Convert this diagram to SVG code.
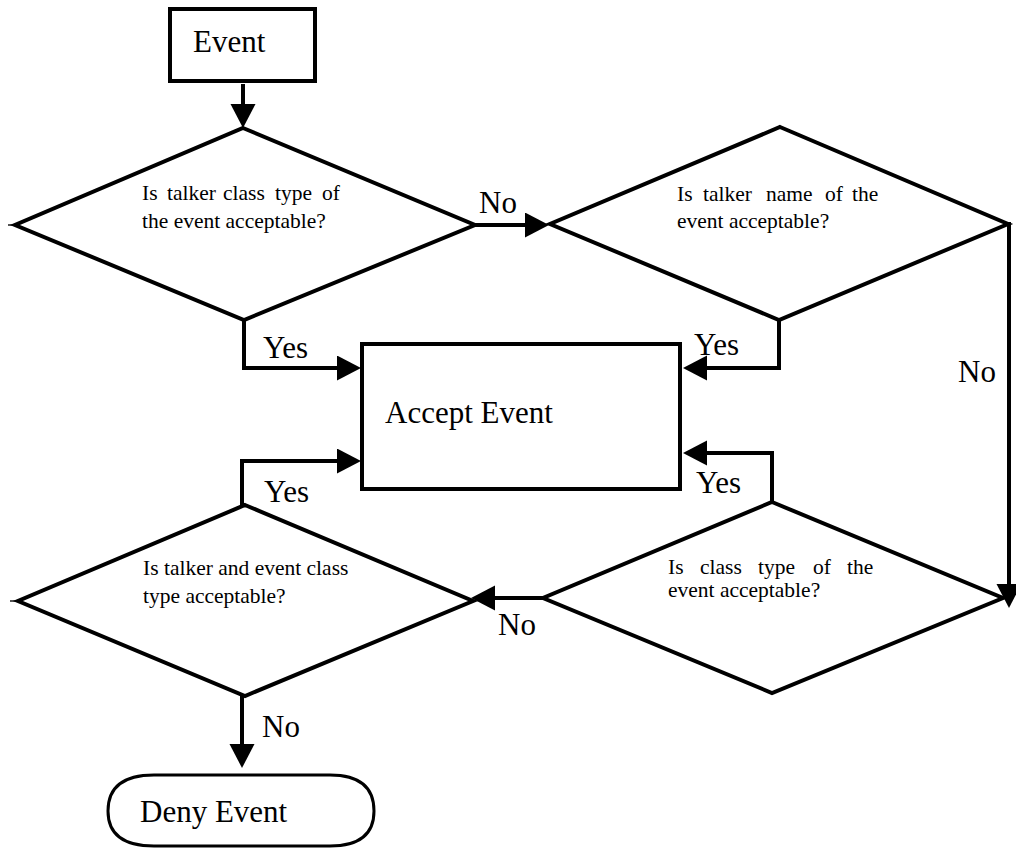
<svg xmlns="http://www.w3.org/2000/svg" width="1016" height="849" viewBox="0 0 1016 849">
<style>
.shape{fill:#fff;stroke:#000;stroke-width:4;stroke-linejoin:miter}
.conn{fill:none;stroke:#000;stroke-width:4;marker-end:url(#ah)}
.tail{stroke:#555;stroke-width:2}
.big{font-family:"Liberation Serif",serif;font-size:31px;fill:#000}
.small{font-family:"Liberation Serif",serif;font-size:21.5px;fill:#000}
</style>
<defs>
<marker id="ah" markerUnits="userSpaceOnUse" markerWidth="26" markerHeight="26" refX="4" refY="12.5" orient="auto" viewBox="0 0 26 26">
<path d="M0,0 L24,12.5 L0,25 Z" fill="#000"/>
</marker>
</defs>
<rect width="1016" height="849" fill="#fff"/>
<g id="connectors">
<path class="conn" d="M243,84 V108"/>
<path class="conn" d="M475,225 H529"/>
<path class="conn" d="M244,320 V368 H341"/>
<path class="conn" d="M779,320 V368 H703"/>
<path class="conn" d="M1009,222 V588"/>
<path class="conn" d="M772,502 V453 H703"/>
<path class="conn" d="M543,598 H491"/>
<path class="conn" d="M242,505 V461 H341"/>
<path class="conn" d="M242,696 V748"/>
</g>
<g id="event">
<rect class="shape" x="170" y="9" width="145" height="72"/>
<text class="big" x="193" y="52">Event</text>
</g>
<g id="d1">
<line class="tail" x1="8" y1="225" x2="16" y2="225"/>
<polygon class="shape" points="243,128 475,225 244,320 15,225"/>
<text class="small" y="200"><tspan x="142">Is</tspan><tspan x="167">talker</tspan><tspan x="223">class</tspan><tspan x="275">type</tspan><tspan x="322">of</tspan></text>
<text class="small" x="142" y="228">the event acceptable?</text>
</g>
<g id="d2">
<polygon class="shape" points="780,127 1008,224 779,320 550,224"/>
<text class="small" y="201"><tspan x="677">Is</tspan><tspan x="703">talker</tspan><tspan x="766">name</tspan><tspan x="825">of</tspan><tspan x="852">the</tspan></text>
<text class="small" x="677" y="228">event acceptable?</text>
</g>
<g id="accept">
<rect class="shape" x="362" y="344" width="318" height="145"/>
<text class="big" x="385" y="423">Accept Event</text>
</g>
<g id="d3">
<line class="tail" x1="10" y1="601" x2="19" y2="601"/>
<polygon class="shape" points="245,505 473,601 245,696 18,601"/>
<text class="small" x="143" y="575">Is talker and event class</text>
<text class="small" x="143" y="603">type acceptable?</text>
</g>
<g id="d4">
<polygon class="shape" points="772,502 1003,598 772,693 543,598"/>
<text class="small" y="574"><tspan x="668">Is</tspan><tspan x="700">class</tspan><tspan x="758">type</tspan><tspan x="813">of</tspan><tspan x="847">the</tspan></text>
<text class="small" x="668" y="597">event acceptable?</text>
</g>
<g id="deny">
<path class="shape" style="stroke-width:3" d="M154,775 H330 Q374,775 374,811 Q374,846 330,846 H154 Q108,846 108,811 Q108,775 154,775 Z"/>
<text class="big" x="140" y="822">Deny Event</text>
</g>
<g id="labels">
<text class="big" x="479" y="213">No</text>
<text class="big" x="263" y="358">Yes</text>
<text class="big" x="694" y="355">Yes</text>
<text class="big" x="958" y="382">No</text>
<text class="big" x="264" y="502">Yes</text>
<text class="big" x="696" y="493">Yes</text>
<text class="big" x="498" y="635">No</text>
<text class="big" x="262" y="737">No</text>
</g>
</svg>
